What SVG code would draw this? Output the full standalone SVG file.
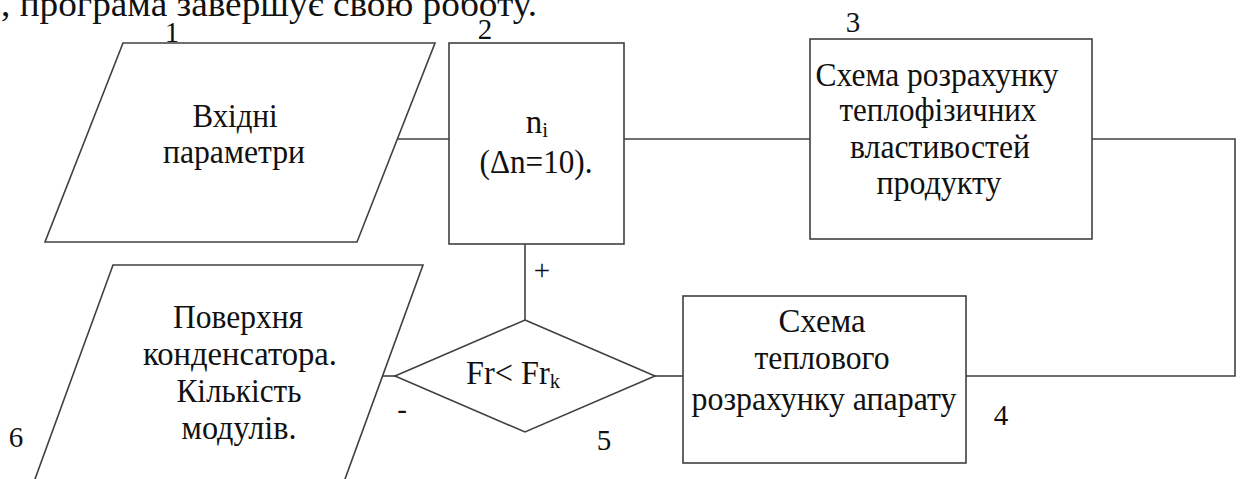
<svg xmlns="http://www.w3.org/2000/svg" width="1242" height="479" viewBox="0 0 1242 479">
<style>
  .shape { fill: none; stroke: #404040; stroke-width: 1.6; }
  .conn { fill: none; stroke: #404040; stroke-width: 1.6; }
  text { font-family: "Liberation Serif", "DejaVu Serif", "Times New Roman", serif; font-size: 33px; fill: #111; }
  .c { text-anchor: middle; }
  .num { font-size: 29px; }
  .top { font-size: 35px; }
  .sub { font-size: 21px; }
</style>
<rect width="1242" height="479" fill="#ffffff"/>

<text class="top" x="1" y="16" textLength="536" lengthAdjust="spacingAndGlyphs">, програма завершує свою роботу.</text>

<g id="connectors">
  <line class="conn" x1="397" y1="139" x2="449" y2="139"/>
  <line class="conn" x1="624" y1="139" x2="810" y2="139"/>
  <polyline class="conn" points="1092,139 1235,139 1235,376 966,376"/>
  <line class="conn" x1="525" y1="244" x2="525" y2="320"/>
  <line class="conn" x1="655" y1="376" x2="683" y2="376"/>
  <line class="conn" x1="383" y1="376" x2="395" y2="376"/>
  <text x="542" y="280" class="c num">+</text>
  <text x="402" y="419" class="c num">-</text>
</g>

<g id="node1">
  <polygon class="shape" points="123,43 435,43 357,242 45,242"/>
  <text x="172" y="42" class="c num">1</text>
  <text x="235" y="127" class="c" textLength="85" lengthAdjust="spacingAndGlyphs">Вхідні</text>
  <text x="234" y="163" class="c" textLength="142" lengthAdjust="spacingAndGlyphs">параметри</text>
</g>

<g id="node2">
  <rect class="shape" x="449" y="43" width="175" height="201"/>
  <text x="485" y="39" class="c num">2</text>
  <text x="537" y="133" class="c">n<tspan class="sub" dy="4">i</tspan></text>
  <text x="536" y="173" class="c" textLength="113" lengthAdjust="spacingAndGlyphs">(Δn=10).</text>
</g>

<g id="node3">
  <rect class="shape" x="810" y="39" width="282" height="200"/>
  <text x="853" y="32" class="c num">3</text>
  <text x="937" y="86" class="c" textLength="243" lengthAdjust="spacingAndGlyphs">Схема розрахунку</text>
  <text x="938" y="121" class="c" textLength="197" lengthAdjust="spacingAndGlyphs">теплофізичних</text>
  <text x="940" y="158" class="c" textLength="180" lengthAdjust="spacingAndGlyphs">властивостей</text>
  <text x="939" y="194" class="c" textLength="125" lengthAdjust="spacingAndGlyphs">продукту</text>
</g>

<g id="node4">
  <rect class="shape" x="683" y="296" width="283" height="167"/>
  <text x="1001" y="425" class="c num">4</text>
  <text x="822" y="332" class="c" textLength="87" lengthAdjust="spacingAndGlyphs">Схема</text>
  <text x="822" y="369" class="c" textLength="135" lengthAdjust="spacingAndGlyphs">теплового</text>
  <text x="824" y="410" class="c" textLength="265" lengthAdjust="spacingAndGlyphs">розрахунку апарату</text>
</g>

<g id="node5">
  <polygon class="shape" points="525,320 655,376 525,432 395,376"/>
  <text x="604" y="450" class="c num">5</text>
  <text x="466" y="384" textLength="94" lengthAdjust="spacingAndGlyphs">Fr&lt; Fr<tspan class="sub" dy="4">k</tspan></text>
</g>

<g id="node6">
  <polygon class="shape" points="113,265 423,265 341,490 31,490"/>
  <text x="16" y="447" class="c num">6</text>
  <text x="238" y="328" class="c" textLength="130" lengthAdjust="spacingAndGlyphs">Поверхня</text>
  <text x="240" y="365" class="c" textLength="194" lengthAdjust="spacingAndGlyphs">конденсатора.</text>
  <text x="239" y="402" class="c" textLength="125" lengthAdjust="spacingAndGlyphs">Кількість</text>
  <text x="239" y="439" class="c" textLength="115" lengthAdjust="spacingAndGlyphs">модулів.</text>
</g>
</svg>
